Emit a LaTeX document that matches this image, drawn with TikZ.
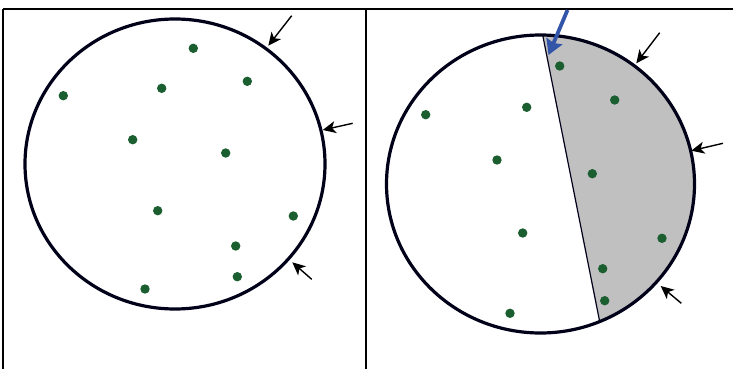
\documentclass[tikz,border=0pt]{standalone}
\usetikzlibrary{arrows.meta,calc}
\definecolor{dotgreen}{RGB}{27,94,47}
\definecolor{cutgray}{RGB}{192,192,192}
\definecolor{cutblue}{RGB}{50,85,170}
\tikzset{
  frame/.style={line width=2.2pt,black},
  rim/.style={line width=3.2pt,black!90!blue},
  seed/.style={circle,fill=dotgreen,inner sep=0pt,minimum size=9.4pt},
  push/.style={line width=1.4pt,-{Stealth[length=13pt,width=12pt,inset=3.5pt]}},
  cutarrow/.style={line width=3.8pt,cutblue,-{Stealth[length=15pt,width=17pt,inset=2pt]}},
  chordline/.style={line width=1.2pt,black!90!blue}
}
\begin{document}
\begin{tikzpicture}[x=1pt,y=-1pt]
\useasboundingbox (0,0) rectangle (733,369);
% table frame
\draw[frame] (3,8.7) -- (733,8.7);
\draw[frame] (3,8.7) -- (3,369);
\draw[frame] (365.8,8.7) -- (365.8,369);
% ---------- left panel ----------
\node[draw=none,inner sep=0pt] (lc) at (175,164) {};
\draw[rim] (lc) ellipse [x radius=150, y radius=145];
\foreach \n/\x/\y in {l1/193.3/48.3, l2/247.3/81.3, l3/63.3/95.7, l4/161.7/88.3,
  l5/132.7/139.7, l6/225.7/153, l7/157.7/210.7, l8/293.3/216, l9/235.7/246,
  l10/237.3/276.7, l11/145/289}
  \node[seed] (\n) at (\x,\y) {};
\coordinate (la1s) at (291.7,15.7); \coordinate (la1t) at (268.3,45.7);
\coordinate (la2s) at (352.7,123.3); \coordinate (la2t) at (322.7,130);
\coordinate (la3s) at (311.7,279.3); \coordinate (la3t) at (292.3,262.3);
\draw[push] (la1s) -- (la1t);
\draw[push] (la2s) -- (la2t);
\draw[push] (la3s) -- (la3t);
% ---------- right panel ----------
\node[draw=none,inner sep=0pt] (rc) at (540.5,184) {};
\coordinate (ct) at (543,36.7);
\coordinate (cb) at (599.7,321.7);
\begin{scope}
  \clip (rc) ellipse [x radius=154, y radius=149];
  \fill[cutgray] ($(ct)!-0.1!(cb)$) -- ($(cb)!-0.1!(ct)$) -- (720,360) -- (720,20) -- cycle;
  \draw[chordline] ($(ct)!-0.1!(cb)$) -- ($(cb)!-0.1!(ct)$);
\end{scope}
\draw[rim] (rc) ellipse [x radius=154, y radius=149];
\foreach \n/\x/\y in {r1/559.7/66, r2/614.7/100, r3/425.7/114.7, r4/526.7/107.3,
  r5/497/160, r6/592.3/173.7, r7/522.7/233, r8/662/238.3, r9/602.7/268.7,
  r10/604.7/300.7, r11/510/313.3}
  \node[seed] (\n) at (\x,\y) {};
\coordinate (ra1s) at (659.7,32.7); \coordinate (ra1t) at (636.3,63.3);
\coordinate (ra2s) at (723,143.3); \coordinate (ra2t) at (691.3,150.7);
\coordinate (ra3s) at (681.3,303.3); \coordinate (ra3t) at (660.7,286);
\draw[push] (ra1s) -- (ra1t);
\draw[push] (ra2s) -- (ra2t);
\draw[push] (ra3s) -- (ra3t);
\coordinate (bs) at (567.5,10);
\coordinate (bt) at (548.5,55);
\draw[cutarrow] (bs) -- (bt);
\end{tikzpicture}
\end{document}
